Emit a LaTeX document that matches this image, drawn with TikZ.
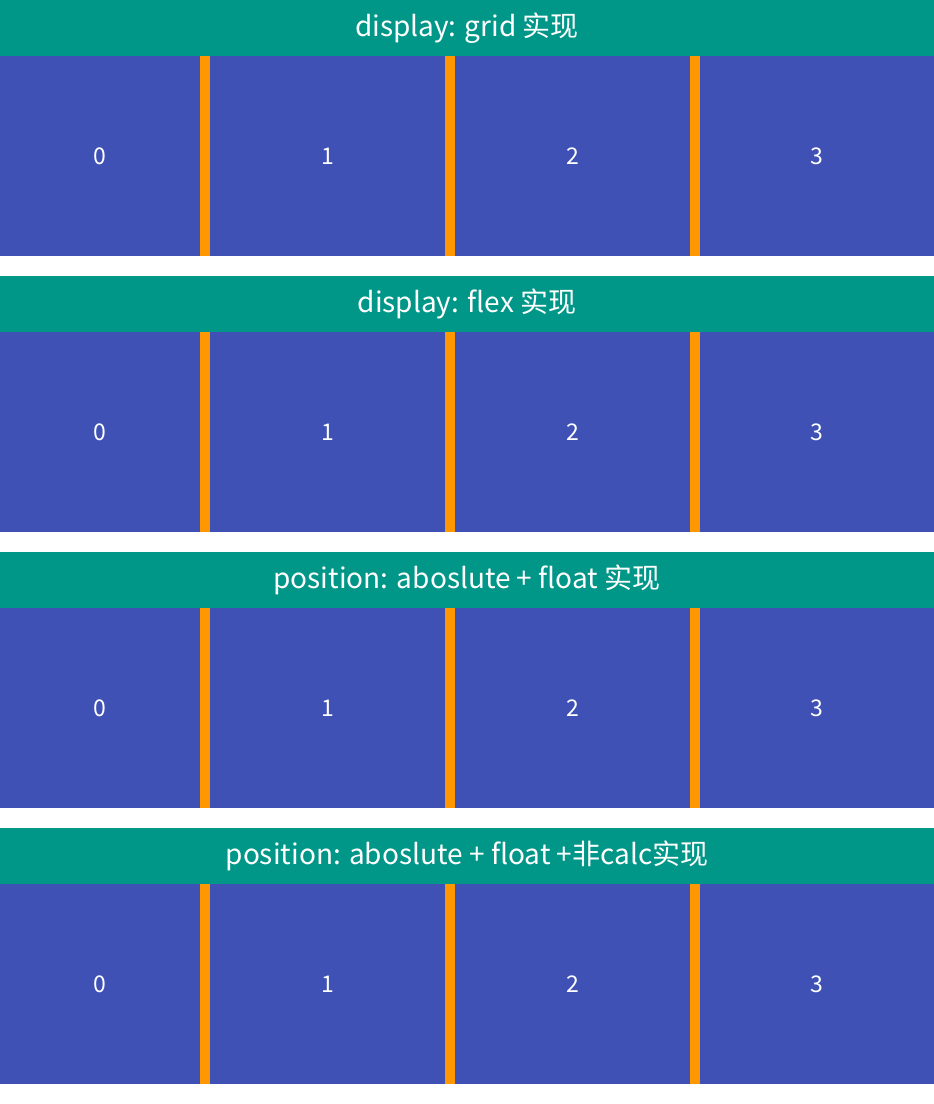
\documentclass[tikz,border=0pt]{standalone}
\usepackage{fontspec}
\setmainfont{Noto Sans CJK SC}
\usepackage{tikz}
\usetikzlibrary{positioning}
\definecolor{headteal}{HTML}{009688}
\definecolor{cellblue}{HTML}{3F51B5}
\definecolor{gutter}{HTML}{FF9800}
\tikzset{
    header/.style={fill=headteal, text=white, minimum width=934pt, minimum height=56pt, inner sep=0pt, outer sep=0pt, font=\fontsize{28}{32}\selectfont},
    cellbox/.style={fill=cellblue, text=white, minimum height=200pt, inner sep=0pt, outer sep=0pt, font=\fontsize{23}{26}\selectfont},
    gutterbar/.style={fill=gutter, minimum width=10pt, minimum height=200pt, inner sep=0pt, outer sep=0pt}
}
\begin{document}
\begin{tikzpicture}[x=1pt, y=-1pt]
    \useasboundingbox[fill=white] (0,0) rectangle (934,1104);
    \foreach \n/\title in {0/{display: grid 实现}, 1/{display: flex 实现}, 2/{position: aboslute + float 实现}, 3/{position: aboslute + float +非calc实现}} {
        \node[header, anchor=north west] (head\n) at (0,276*\n) {\title};
        \node[cellbox, minimum width=200pt, anchor=north west] (cella\n) at (0,276*\n+56) {0};
        \node[gutterbar, right=0pt of cella\n] (bara\n) {};
        \node[cellbox, minimum width=235pt, right=0pt of bara\n] (cellb\n) {1};
        \node[gutterbar, right=0pt of cellb\n] (barb\n) {};
        \node[cellbox, minimum width=235pt, right=0pt of barb\n] (cellc\n) {2};
        \node[gutterbar, right=0pt of cellc\n] (barc\n) {};
        \node[cellbox, minimum width=234pt, right=0pt of barc\n] (celld\n) {3};
    }
\end{tikzpicture}
\end{document}
